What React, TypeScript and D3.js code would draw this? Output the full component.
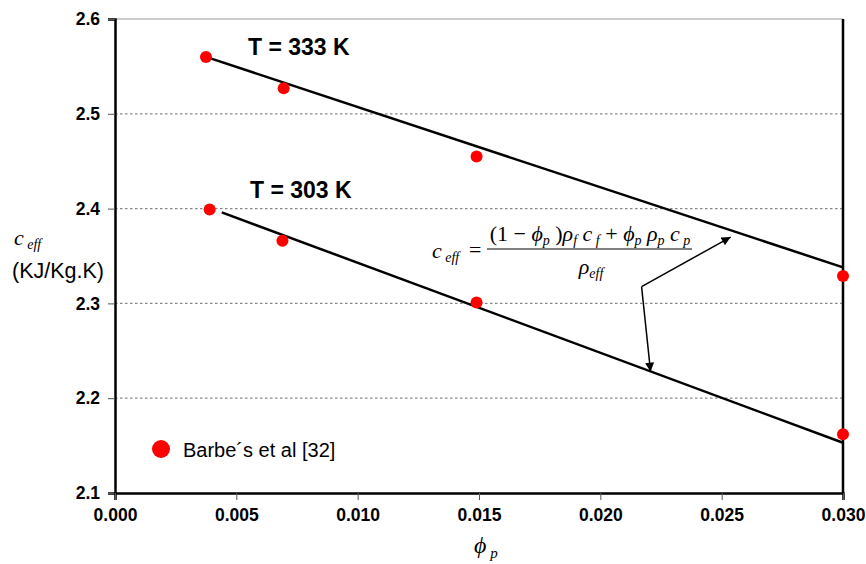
import * as d3 from 'd3';
import React, { useRef, useEffect } from 'react';

// volume fraction of particles
const phi333 = [0.00375, 0.00695, 0.0149, 0.03];
const ceff333 = [2.56, 2.527, 2.455, 2.329];
const phi303 = [0.0039, 0.0069, 0.0149, 0.03];
const ceff303 = [2.399, 2.366, 2.301, 2.162];
// fitted lines (start, end)
const fit333X = [0.00375, 0.03];
const fit333Y = [2.56, 2.338];
const fit303X = [0.0044, 0.03];
const fit303Y = [2.396, 2.153];
const xTicks = [0, 0.005, 0.01, 0.015, 0.02, 0.025, 0.03];
const yTicks = [2.1, 2.2, 2.3, 2.4, 2.5, 2.6];
// arrow annotation: junction and two tips
const arrowFrom = [0.0217, 2.3176];
const arrowTips = [[0.02537, 2.370], [0.02207, 2.228]];

const W = 866, H = 564;
const margin = { top: 19, right: 23, bottom: 71, left: 115 };

function App() {
    const ref = useRef<SVGSVGElement>(null);

    useEffect(() => {
        const svg = d3.select(ref.current);
        svg.selectAll('*').remove();
        const width = W - margin.left - margin.right;
        const height = H - margin.top - margin.bottom;
        const x = d3.scaleLinear().domain([0, 0.03]).range([0, width]);
        const y = d3.scaleLinear().domain([2.1, 2.6]).range([height, 0]);
        const sans = 'Liberation Sans, Arial, sans-serif';
        const serif = 'Liberation Serif, Times New Roman, serif';

        svg.append('defs').append('marker')
            .attr('id', 'tip')
            .attr('viewBox', '0 0 10 10')
            .attr('refX', 10).attr('refY', 5)
            .attr('markerWidth', 10).attr('markerHeight', 9)
            .attr('markerUnits', 'userSpaceOnUse')
            .attr('orient', 'auto')
            .append('path').attr('d', 'M0,0L10,5L0,10Z').attr('fill', '#000');

        const g = svg.append('g').attr('transform', `translate(${margin.left},${margin.top})`);

        // grid
        g.selectAll('.grid').data(yTicks.filter(d => d > 2.1 && d < 2.6)).enter()
            .append('line')
            .attr('x1', 0).attr('x2', width)
            .attr('y1', d => y(d)).attr('y2', d => y(d))
            .attr('stroke', '#888').attr('stroke-width', 1.2)
            .attr('stroke-dasharray', '2.5,2.5');
        g.append('line').attr('x1', 0).attr('x2', width).attr('y1', 0).attr('y2', 0)
            .attr('stroke', '#bbb').attr('stroke-width', 1.5);
        g.append('line').attr('x1', width).attr('x2', width).attr('y1', 0).attr('y2', height)
            .attr('stroke', '#000').attr('stroke-width', 2.5);

        // axes
        const yAxis = g.append('g').call(d3.axisLeft(y).tickValues(yTicks).tickFormat(d3.format('.1f')).tickSize(7).tickPadding(8));
        const xAxis = g.append('g').attr('transform', `translate(0,${height})`)
            .call(d3.axisBottom(x).tickValues(xTicks).tickFormat(d3.format('.3f')).tickSize(7).tickPadding(9));
        [yAxis, xAxis].forEach(a => {
            a.select('.domain').attr('stroke', '#000').attr('stroke-width', 2.5);
            a.selectAll('.tick line').attr('stroke', '#555').attr('stroke-width', 1);
            a.selectAll('.tick text').attr('font-family', sans).attr('font-size', 17.5)
                .attr('font-weight', 'bold').attr('fill', '#000');
        });

        // fit lines
        [[fit333X, fit333Y], [fit303X, fit303Y]].forEach(([xs, ys]) => {
            g.append('line')
                .attr('x1', x(xs[0])).attr('y1', y(ys[0]))
                .attr('x2', x(xs[1])).attr('y2', y(ys[1]))
                .attr('stroke', '#000').attr('stroke-width', 2.5);
        });

        // points
        const pts = phi333.map((p, i) => [p, ceff333[i]]).concat(phi303.map((p, i) => [p, ceff303[i]]));
        g.selectAll('.pt').data(pts).enter().append('circle')
            .attr('cx', d => x(d[0])).attr('cy', d => y(d[1])).attr('r', 6).attr('fill', '#f00');

        // arrows
        arrowTips.forEach(t => {
            g.append('line')
                .attr('x1', x(arrowFrom[0])).attr('y1', y(arrowFrom[1]))
                .attr('x2', x(t[0])).attr('y2', y(t[1]))
                .attr('stroke', '#000').attr('stroke-width', 1.5)
                .attr('marker-end', 'url(#tip)');
        });

        // labels T
        svg.append('text').attr('x', 248).attr('y', 55).attr('font-family', sans)
            .attr('font-size', 23).attr('font-weight', 'bold').text('T = 333 K');
        svg.append('text').attr('x', 250).attr('y', 198).attr('font-family', sans)
            .attr('font-size', 23).attr('font-weight', 'bold').text('T = 303 K');

        // legend
        svg.append('circle').attr('cx', 161).attr('cy', 449).attr('r', 9).attr('fill', '#f00');
        svg.append('text').attr('x', 183).attr('y', 457).attr('font-family', sans)
            .attr('font-size', 20).text('Barbe´s et al [32]');

        // formula
        const f = svg.append('g').attr('font-family', serif).attr('fill', '#000');
        const addRuns = (t: any, runs: [string, boolean, boolean][], big = 22, small = 14) => {
            runs.forEach(([s, sub, it]) => {
                t.append('tspan').text(s)
                    .attr('font-size', sub ? small : big)
                    .attr('font-style', it ? 'italic' : 'normal')
                    .attr('baseline-shift', sub ? '-30%' : null);
            });
        };
        const lhs = f.append('text').attr('x', 432).attr('y', 258);
        addRuns(lhs, [['c', false, true], [' eff', true, true]]);
        f.append('text').attr('x', 469).attr('y', 257).attr('font-size', 22).text('=');
        const num = f.append('text').attr('x', 590).attr('y', 241).attr('text-anchor', 'middle');
        addRuns(num, [['(1 − ', false, false], ['ϕ', false, true], ['p', true, true], [' )', false, false],
            ['ρ', false, true], ['f', true, true], [' c', false, true], [' f', true, true], [' + ', false, false],
            ['ϕ', false, true], ['p', true, true], [' ρ', false, true], ['p', true, true], [' c', false, true], [' p', true, true]]);
        f.append('line').attr('x1', 487).attr('x2', 692).attr('y1', 249).attr('y2', 249)
            .attr('stroke', '#000').attr('stroke-width', 1);
        const den = f.append('text').attr('x', 591).attr('y', 274).attr('text-anchor', 'middle');
        addRuns(den, [['ρ', false, true], ['eff', true, true]]);

        // y label
        const yl = svg.append('text').attr('x', 14).attr('y', 245).attr('font-family', serif);
        addRuns(yl, [['c', false, true], [' eff', true, true]]);
        svg.append('text').attr('x', 12).attr('y', 278).attr('font-family', sans)
            .attr('font-size', 21.5).text('(KJ/Kg.K)');

        // x label
        const xl = svg.append('text').attr('x', 474).attr('y', 553).attr('font-family', serif);
        addRuns(xl, [['ϕ', false, true], [' p', true, true]], 24, 15);
    }, []);

    return (
        <svg ref={ref} width={W} height={H} style={{ position: 'absolute', left: 0, top: 0, background: '#fff' }} />
    );
}

export default App;
